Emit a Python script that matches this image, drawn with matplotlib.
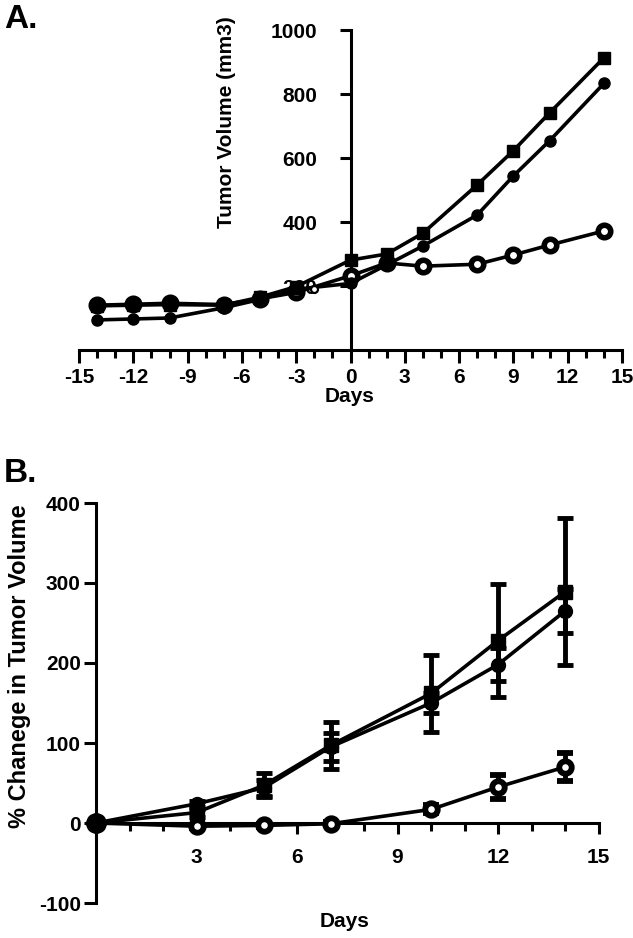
import numpy as np
import matplotlib
matplotlib.use("Agg")
import matplotlib.pyplot as plt
import matplotlib.ticker as ticker

plt.rcParams.update({
    "font.family": ["Liberation Sans", "DejaVu Sans"],
    "font.weight": "bold",
    "font.size": 15,
    "axes.unicode_minus": False,
    "axes.linewidth": 2.2,
    "xtick.major.width": 2.2,
    "ytick.major.width": 2.2,
    "xtick.minor.width": 2.2,
    "ytick.minor.width": 2.2,
    "xtick.direction": "out",
    "ytick.direction": "out",
})

# ── Panel A: tumor volume (mm3) ───────────────────────────────────
days_a = [-14, -12, -10, -7, -5, -3, 0, 2, 4, 7, 9, 11, 14]
vol_square = [138, 140, 142, 140, 165, 198, 281, 300, 365, 516, 623, 741, 913]
vol_dot = [94, 97, 100, 132, 158, 190, 208, 266, 325, 422, 544, 654, 833]
vol_ring = [140, 143, 146, 142, 160, 180, 232, 272, 262, 268, 297, 328, 372]
stray_day = [-2]
stray_vol = [190]

# ── Panel B: % change in tumor volume ─────────────────────────────
days_b = [0, 3, 5, 7, 10, 12, 14]
pct_square = [0, 13, 47, 97, 162, 228, 289]
err_square = [0, 5, 15, 29, 48, 71, 92]
pct_dot = [0, 24, 44, 95, 150, 198, 265]
err_dot = [0, 4, 10, 18, 13, 21, 27]
pct_ring = [0, -4, -3, -1, 17, 45, 70]
err_ring = [0, 2, 2, 2, 5, 15, 17]

W, H = 633, 938
fig = plt.figure(figsize=(W / 100, H / 100), dpi=100)


def px_axes(x0, y0, x1, y1):
    """Axes from pixel box (left, top, right, bottom)."""
    return fig.add_axes([x0 / W, 1 - y1 / H, (x1 - x0) / W, (y1 - y0) / H])


# ══════════════════════════════════════════════════════════════════
# A
# ══════════════════════════════════════════════════════════════════
axA = px_axes(79, 30, 622, 350)
axA.set_xlim(-15, 15)
axA.set_ylim(0, 1000)
for s in ("top", "right"):
    axA.spines[s].set_visible(False)
axA.spines["left"].set_position(("data", 0))
axA.spines["left"].set_bounds(0, 1000)
axA.spines["bottom"].set_bounds(-15, 15)
axA.set_xticks(np.arange(-15, 16, 3))
axA.xaxis.set_minor_locator(ticker.MultipleLocator(1))
axA.set_yticks([200, 400, 600, 800, 1000])
axA.tick_params(axis="x", which="major", length=9, pad=4)
axA.tick_params(axis="x", which="minor", length=6)
axA.tick_params(axis="y", which="major", length=8, pad=16)

# ring series underneath, so squares fill its centre where they overlap
axA.plot(days_a, vol_ring, color="black", lw=2.6, marker="o", ms=9,
         mfc="white", mec="black", mew=4.0, zorder=3, clip_on=False)
axA.plot(days_a, vol_square, color="black", lw=2.6, marker="s", ms=9,
         zorder=4, clip_on=False)
axA.plot(days_a, vol_dot, color="black", lw=2.6, marker="o", ms=8,
         zorder=4, clip_on=False)
axA.plot(stray_day, stray_vol, ls="none", marker="o", ms=5, mfc="white",
         mec="black", mew=1.6, zorder=4)

fig.text(350 / W, 1 - 396 / H, "Days", ha="center", va="center",
         fontsize=15, fontweight="bold")
fig.text(227 / W, 1 - 122 / H, "Tumor Volume (mm3)", rotation=90,
         ha="center", va="center", fontsize=15, fontweight="bold")
fig.text(4 / W, 1 - 20 / H, "A.", ha="left", va="center",
         fontsize=24, fontweight="bold")

# ══════════════════════════════════════════════════════════════════
# B
# ══════════════════════════════════════════════════════════════════
axB = px_axes(96, 503, 598.5, 903)
axB.set_xlim(0, 15)
axB.set_ylim(-100, 400)
for s in ("top", "right"):
    axB.spines[s].set_visible(False)
axB.spines["bottom"].set_position(("data", 0))
axB.set_xticks([3, 6, 9, 12, 15])
axB.xaxis.set_minor_locator(ticker.MultipleLocator(1))
axB.set_yticks(np.arange(-100, 401, 100))
axB.tick_params(axis="x", which="major", length=8, pad=10)
axB.tick_params(axis="x", which="minor", length=6)
axB.tick_params(axis="y", which="major", length=9, pad=2)

ebkw = dict(color="black", lw=2.6, elinewidth=3.5, capsize=6, capthick=3.5,
            zorder=3, clip_on=False)
axB.errorbar(days_b, pct_square, yerr=err_square, fmt="-s", ms=10, **ebkw)
axB.errorbar(days_b, pct_dot, yerr=err_dot, fmt="-o", ms=10, **ebkw)
axB.errorbar(days_b, pct_ring, yerr=err_ring, fmt="-o", ms=9, mfc="white",
             mec="black", mew=4.2, **ebkw)
axB.plot(days_b[:1], pct_dot[:1], ls="none", marker="o", ms=14,
         color="black", zorder=4, clip_on=False)

fig.text(345 / W, 1 - 921 / H, "Days", ha="center", va="center",
         fontsize=15, fontweight="bold")
fig.text(20 / W, 1 - 666 / H, "% Chanege in Tumor Volume", rotation=90,
         ha="center", va="center", fontsize=17, fontweight="bold")
fig.text(4 / W, 1 - 473 / H, "B.", ha="left", va="center",
         fontsize=24, fontweight="bold")

fig.savefig("out.png", dpi=100)
